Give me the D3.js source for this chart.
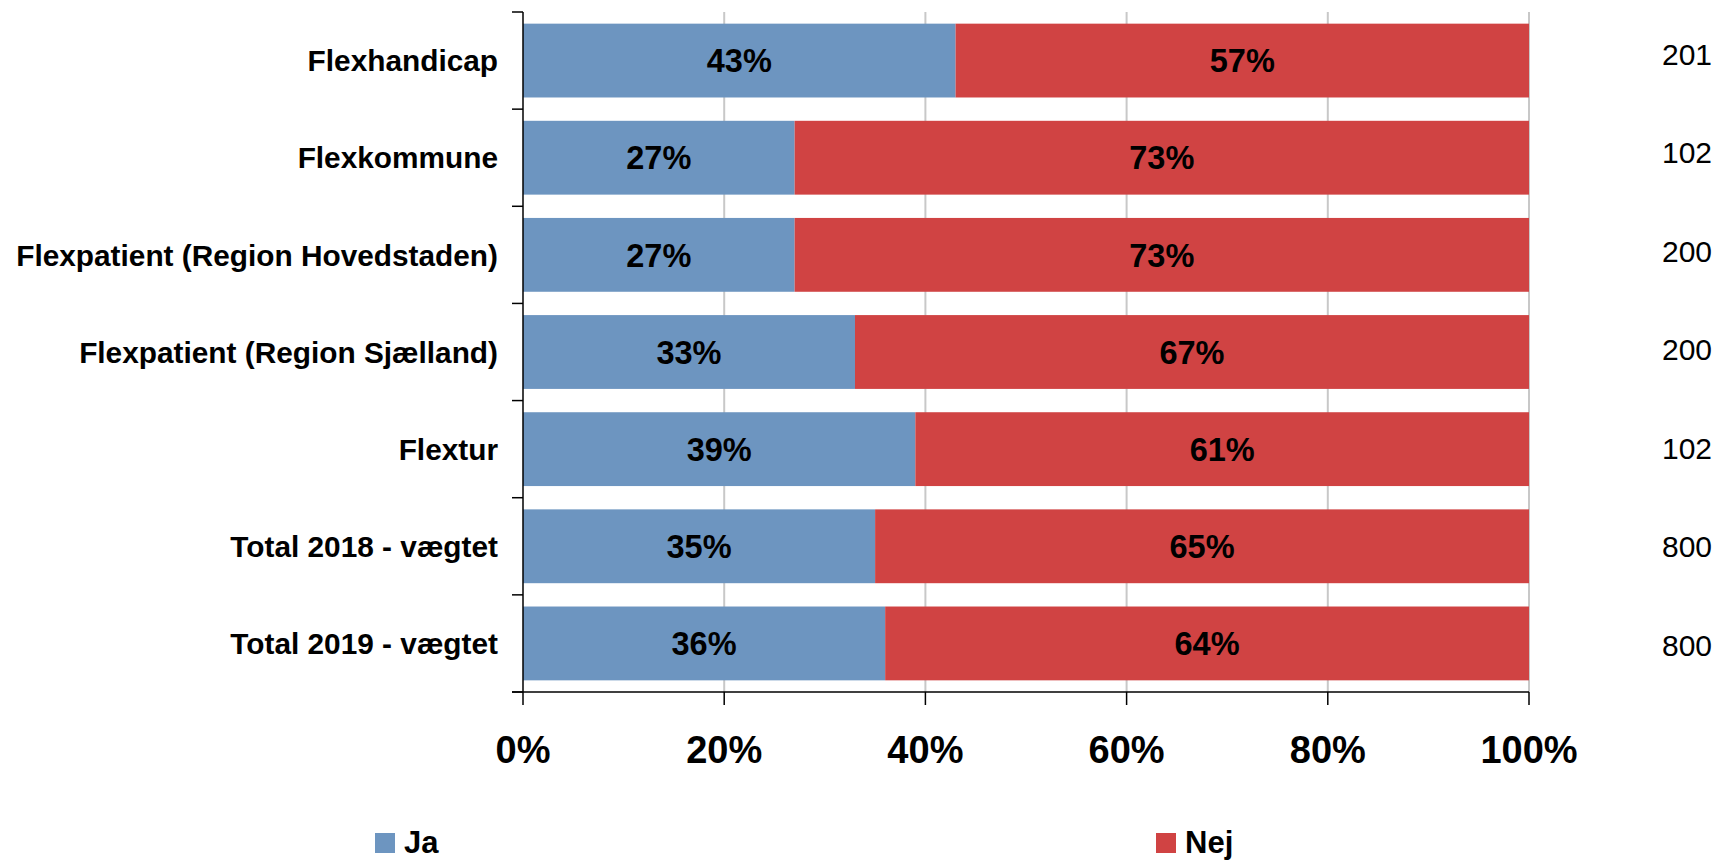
<!DOCTYPE html>
<html>
<head>
<meta charset="utf-8">
<script src="https://cdn.jsdelivr.net/npm/d3@7"></script>
<style>
  html, body { margin: 0; padding: 0; background: #fff; }
  svg { display: block; font-family: "Liberation Sans", Arial, sans-serif; }
</style>
</head>
<body>
<svg id="chart" width="1721" height="861"></svg>
<script>
const categories = ["Flexhandicap", "Flexkommune", "Flexpatient (Region Hovedstaden)", "Flexpatient (Region Sjælland)", "Flextur", "Total 2018 - vægtet", "Total 2019 - vægtet"];
const jaValues = [43, 27, 27, 33, 39, 35, 36];
const nejValues = [57, 73, 73, 67, 61, 65, 64];
const nValues = [201, 102, 200, 200, 102, 800, 800];
const xTicks = [0, 20, 40, 60, 80, 100];
const seriesNames = ["Ja", "Nej"];
const seriesColors = ["#6d95c0", "#d04343"];

(function () {
const svg = d3.select("#chart");
const plotLeft = 523, plotRight = 1529, plotTop = 12, plotBottom = 692;

const x = d3.scaleLinear().domain([0, 100]).range([plotLeft, plotRight]);
const y = d3.scaleBand().domain(categories).range([plotTop, plotBottom]).paddingInner(0.24).paddingOuter(0.12);
const yStep = y.step();

// gridlines
svg.append("g").selectAll("line").data(xTicks.filter(t => t > 0)).join("line")
  .attr("x1", d => x(d)).attr("x2", d => x(d))
  .attr("y1", plotTop).attr("y2", plotBottom)
  .attr("stroke", "#c8c8c8").attr("stroke-width", 2);

// stacked data
const rows = categories.map((c, i) => ({ cat: c, Ja: jaValues[i], Nej: nejValues[i] }));
const stack = d3.stack().keys(seriesNames)(rows);

const layers = svg.append("g").selectAll("g").data(stack).join("g")
  .attr("fill", (d, i) => seriesColors[i]);
layers.selectAll("rect").data(d => d).join("rect")
  .attr("x", d => x(d[0]))
  .attr("width", d => x(d[1]) - x(d[0]))
  .attr("y", d => y(d.data.cat))
  .attr("height", y.bandwidth());

// value labels
const labels = svg.append("g");
stack.forEach(layer => {
  labels.append("g").selectAll("text").data(layer).join("text")
    .attr("x", d => (x(d[0]) + x(d[1])) / 2)
    .attr("y", d => y(d.data.cat) + y.bandwidth() / 2)
    .attr("dy", "0.36em")
    .attr("text-anchor", "middle")
    .attr("font-size", 32.5).attr("font-weight", "bold").attr("fill", "#000")
    .text(d => (d[1] - d[0]) + "%");
});

// y axis
const yAxisG = svg.append("g");
yAxisG.append("line").attr("x1", plotLeft).attr("x2", plotLeft).attr("y1", plotTop).attr("y2", plotBottom)
  .attr("stroke", "#000").attr("stroke-width", 1.5);
yAxisG.selectAll("line.tick").data(d3.range(categories.length + 1)).join("line")
  .attr("class", "tick")
  .attr("x1", plotLeft - 11).attr("x2", plotLeft)
  .attr("y1", i => plotTop + i * yStep).attr("y2", i => plotTop + i * yStep)
  .attr("stroke", "#000").attr("stroke-width", 1.5);
yAxisG.selectAll("text").data(categories).join("text")
  .attr("x", plotLeft - 25)
  .attr("y", d => y(d) + y.bandwidth() / 2)
  .attr("dy", "0.36em")
  .attr("text-anchor", "end")
  .attr("font-size", 29.8).attr("font-weight", "bold").attr("fill", "#000")
  .text(d => d);

// x axis
const xAxisG = svg.append("g");
xAxisG.append("line").attr("x1", plotLeft - 11).attr("x2", plotRight).attr("y1", plotBottom).attr("y2", plotBottom)
  .attr("stroke", "#000").attr("stroke-width", 1.5);
xAxisG.selectAll("line.tick").data(xTicks).join("line")
  .attr("class", "tick")
  .attr("x1", d => x(d)).attr("x2", d => x(d))
  .attr("y1", plotBottom).attr("y2", plotBottom + 13)
  .attr("stroke", "#000").attr("stroke-width", 1.5);
xAxisG.selectAll("text").data(xTicks).join("text")
  .attr("x", d => x(d)).attr("y", 763)
  .attr("text-anchor", "middle")
  .attr("font-size", 38).attr("font-weight", "bold").attr("fill", "#000")
  .text(d => d + "%");

// n column
const yN = d3.scaleBand().domain(categories).range([5, 694]);
svg.append("g").selectAll("text").data(categories).join("text")
  .attr("x", 1687)
  .attr("y", d => yN(d) + yN.bandwidth() / 2)
  .attr("dy", "0.36em")
  .attr("text-anchor", "middle")
  .attr("font-size", 30).attr("fill", "#000")
  .text((d, i) => nValues[i]);

// legend
const legendX = [375, 1156];
const legend = svg.append("g").selectAll("g").data(seriesNames).join("g")
  .attr("transform", (d, i) => `translate(${legendX[i]},833)`);
legend.append("rect").attr("width", 20).attr("height", 20).attr("fill", (d, i) => seriesColors[i]);
legend.append("text").attr("x", 29).attr("y", 20)
  .attr("font-size", 31).attr("font-weight", "bold").attr("fill", "#000")
  .text(d => d);
})();
</script>
</body>
</html>
